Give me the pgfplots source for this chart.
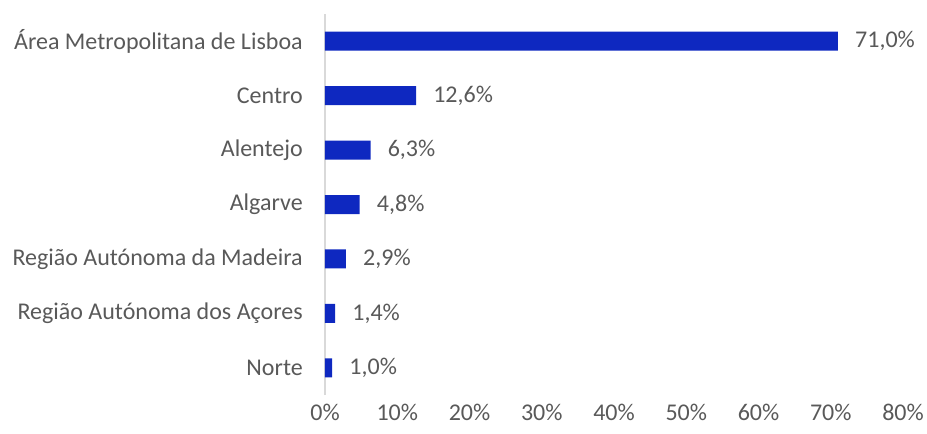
\documentclass[border=0pt]{standalone}
\usepackage{pgfplots}
\pgfplotsset{compat=1.18}
\usepackage{fontspec}
\setmainfont{Carlito}
\definecolor{barblue}{RGB}{14,40,192}
\definecolor{txtgray}{RGB}{89,89,89}
\definecolor{axgray}{RGB}{217,217,217}
\begin{document}
\begin{tikzpicture}
\useasboundingbox (-243.75pt,-28.5pt) rectangle (451.5pt,296.25pt);
\begin{axis}[
  at={(0,0)}, anchor=south west,
  scale only axis,
  width=433.5pt, height=285.75pt,
  xbar, bar width=14.25pt,
  xmin=0, xmax=80, ymin=-0.5, ymax=6.5,
  xtick={0,10,...,80},
  xticklabel={\pgfmathprintnumber{\tick}\%},
  ytick={0,1,2,3,4,5,6},
  yticklabels={Norte,Região Autónoma dos Açores,Região Autónoma da Madeira,Algarve,Alentejo,Centro,Área Metropolitana de Lisboa},
  major tick length=0pt,
  axis lines=left,
  x axis line style={draw=none},
  y axis line style={draw=axgray, line width=1pt, -},
  tick style={draw=none},
  font=\fontsize{18}{21.6}\selectfont,
  ticklabel style={font=\fontsize{18}{21.6}\selectfont, text=txtgray},
  /pgf/number format/assume math mode=true,
  yticklabel style={inner sep=0pt, xshift=-16.5pt},
  xticklabel style={inner sep=0pt, yshift=-6.75pt},
  nodes near coords={\pgfmathprintnumber[fixed,fixed zerofill,precision=1,use comma,assume math mode=true]{\pgfplotspointmeta}\%},
  nodes near coords style={text=txtgray, font=\fontsize{18}{21.6}\selectfont, anchor=west, inner sep=0pt, xshift=12.75pt},
  clip=false,
]
\addplot[fill=barblue, draw=none] coordinates {
 (1.0,0) (1.4,1) (2.9,2) (4.8,3) (6.3,4) (12.6,5) (71.0,6)
};
\end{axis}
\end{tikzpicture}
\end{document}
